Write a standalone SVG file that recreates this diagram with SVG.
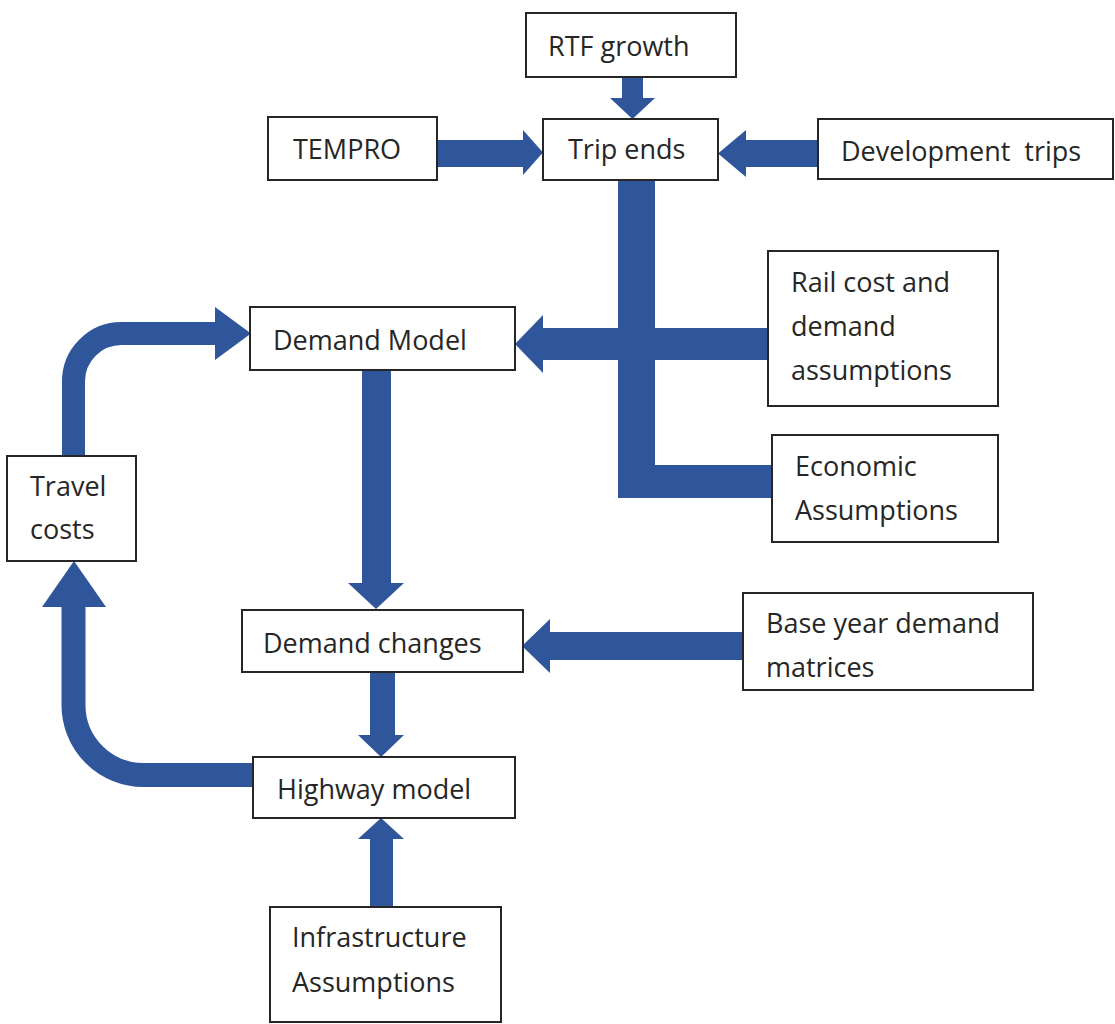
<svg xmlns="http://www.w3.org/2000/svg" width="1115" height="1024" viewBox="0 0 1115 1024">
<style>
.box{fill:#fff;stroke:#262626;stroke-width:2}
.t{font-family:"Open Sans","Liberation Sans",sans-serif;font-size:27px;fill:#262626}
.a{fill:#2F559B}
.s{fill:none;stroke:#2F559B}
</style>
<rect width="1115" height="1024" fill="#fff"/>
<g id="connectors">
  <rect class="a" x="622" y="76" width="21" height="23"/>
  <polygon class="a" points="610,98 655,98 632.5,119"/>
  <rect class="a" x="436" y="140" width="88" height="27"/>
  <polygon class="a" points="523,130 543,152.5 523,175"/>
  <rect class="a" x="744" y="140" width="75" height="27"/>
  <polygon class="a" points="746,130 718,153.5 746,177"/>
  <polygon class="a" points="618,180 655,180 655,465 773,465 773,498 618,498"/>
  <rect class="a" x="542" y="328" width="227" height="32"/>
  <polygon class="a" points="543,315 515,344 543,373"/>
  <rect class="a" x="362" y="369" width="29" height="215"/>
  <polygon class="a" points="348,583 404,583 376,609"/>
  <rect class="a" x="549" y="632" width="195" height="28"/>
  <polygon class="a" points="550,619 522,646 550,673"/>
  <rect class="a" x="370" y="671" width="25" height="65"/>
  <polygon class="a" points="358,735 404,735 381,757"/>
  <rect class="a" x="370" y="838" width="23" height="70"/>
  <polygon class="a" points="358,839 404,839 381,818"/>
  <path class="s" stroke-width="23" d="M73.5 457 L73.5 381.5 A48 48 0 0 1 121.5 333.5 L216 333.5"/>
  <polygon class="a" points="215,307 251,333.5 215,360"/>
  <path class="s" stroke-width="24" d="M254 775 L143.5 775 A70 70 0 0 1 73.5 705 L73.5 606"/>
  <polygon class="a" points="42,607 106,607 74,561"/>
</g>
<g id="rtf-growth"><rect class="box" x="526" y="13" width="210" height="64"/><text class="t" x="548" y="56">RTF growth</text></g>
<g id="tempro"><rect class="box" x="268" y="117" width="169" height="63"/><text class="t" x="293" y="159">TEMPRO</text></g>
<g id="trip-ends"><rect class="box" x="543" y="119" width="175" height="61"/><text class="t" x="568" y="159">Trip ends</text></g>
<g id="development-trips"><rect class="box" x="818" y="119" width="295" height="60"/><text class="t" x="841" y="161" xml:space="preserve">Development  trips</text></g>
<g id="demand-model"><rect class="box" x="250" y="307" width="265" height="63"/><text class="t" x="273" y="350">Demand Model</text></g>
<g id="rail-cost"><rect class="box" x="768" y="251" width="230" height="155"/><text class="t" x="791" y="292">Rail cost and</text><text class="t" x="791" y="336">demand</text><text class="t" x="791" y="380">assumptions</text></g>
<g id="economic"><rect class="box" x="772" y="435" width="226" height="107"/><text class="t" x="795" y="476">Economic</text><text class="t" x="795" y="520">Assumptions</text></g>
<g id="travel-costs"><rect class="box" x="7" y="456" width="129" height="105"/><text class="t" x="30" y="496">Travel</text><text class="t" x="30" y="539">costs</text></g>
<g id="demand-changes"><rect class="box" x="242" y="610" width="281" height="62"/><text class="t" x="263" y="653">Demand changes</text></g>
<g id="base-year"><rect class="box" x="743" y="593" width="290" height="97"/><text class="t" x="766" y="633">Base year demand</text><text class="t" x="766" y="677">matrices</text></g>
<g id="highway-model"><rect class="box" x="253" y="757" width="262" height="61"/><text class="t" x="277" y="799">Highway model</text></g>
<g id="infrastructure"><rect class="box" x="270" y="907" width="231" height="115"/><text class="t" x="292" y="947">Infrastructure</text><text class="t" x="292" y="992">Assumptions</text></g>
</svg>
